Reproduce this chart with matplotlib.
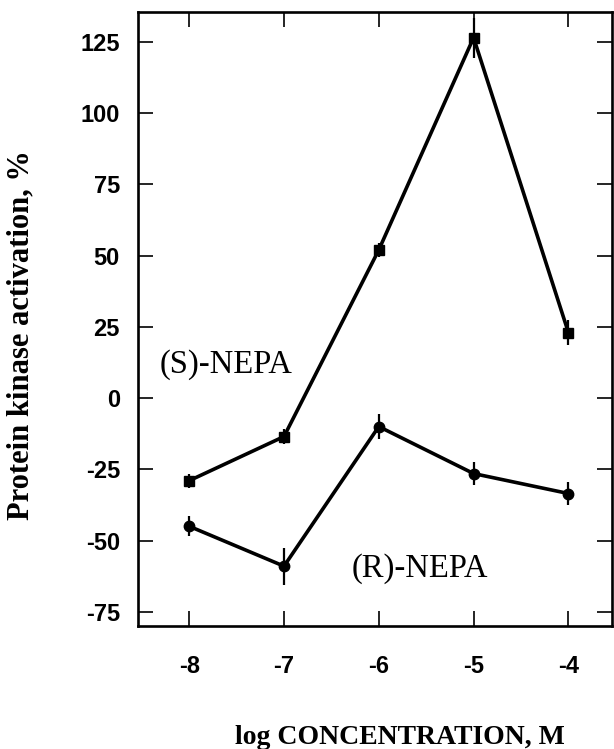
import matplotlib
matplotlib.use("Agg")
import matplotlib.pyplot as plt

# Data
log_conc = [-8, -7, -6, -5, -4]
s_nepa = [-29, -13.5, 52, 126.5, 23]
s_err = [2.5, 2.5, 2.5, 7, 4.5]
r_nepa = [-45, -59, -10, -26.5, -33.5]
r_err = [3.5, 6.5, 4.5, 4, 4]
x_ticks = [-8, -7, -6, -5, -4]
y_ticks = [-75, -50, -25, 0, 25, 50, 75, 100, 125]

fig = plt.figure(figsize=(6.14, 7.49), dpi=100)
ax = fig.add_axes([138/614, 1 - 626/749, (612-138)/614, (626-12)/749])

ax.errorbar(log_conc, s_nepa, yerr=s_err, color="black", lw=2.6, marker="s",
            ms=7.5, elinewidth=1.6, capsize=0, zorder=3)
ax.errorbar(log_conc, r_nepa, yerr=r_err, color="black", lw=2.6, marker="o",
            ms=7.5, elinewidth=1.6, capsize=0, zorder=3)

ax.set_xlim(-8.54, -3.54)
ax.set_ylim(-80, 135.5)
ax.set_xticks(x_ticks)
ax.set_yticks(y_ticks)
ax.set_xticklabels([str(v) for v in x_ticks])
ax.set_yticklabels([str(v) for v in y_ticks])

for s in ax.spines.values():
    s.set_linewidth(1.9)

ax.tick_params(direction="in", length=11, width=1.2, top=True, right=True,
               labelsize=17)
ax.tick_params(axis="x", pad=21)
ax.tick_params(axis="y", pad=13)
for lab in ax.get_xticklabels() + ax.get_yticklabels():
    lab.set_fontfamily("Liberation Sans")
    lab.set_fontweight("bold")

ax.text(-7.61, 11.7, "(S)-NEPA", fontsize=23.5, family="Liberation Serif",
        ha="center", va="center")
ax.text(-5.57, -60, "(R)-NEPA", fontsize=23.5, family="Liberation Serif",
        ha="center", va="center")

fig.text(400/614, 1 - 737/749, "log CONCENTRATION, M", fontsize=20,
         family="Liberation Serif", fontweight="bold", ha="center", va="center")
fig.text(21/614, 1 - 335/749, "Protein kinase activation, %", fontsize=22,
         family="Liberation Serif", fontweight="bold", ha="center", va="center",
         rotation=90)

fig.savefig("out.png", dpi=100)
